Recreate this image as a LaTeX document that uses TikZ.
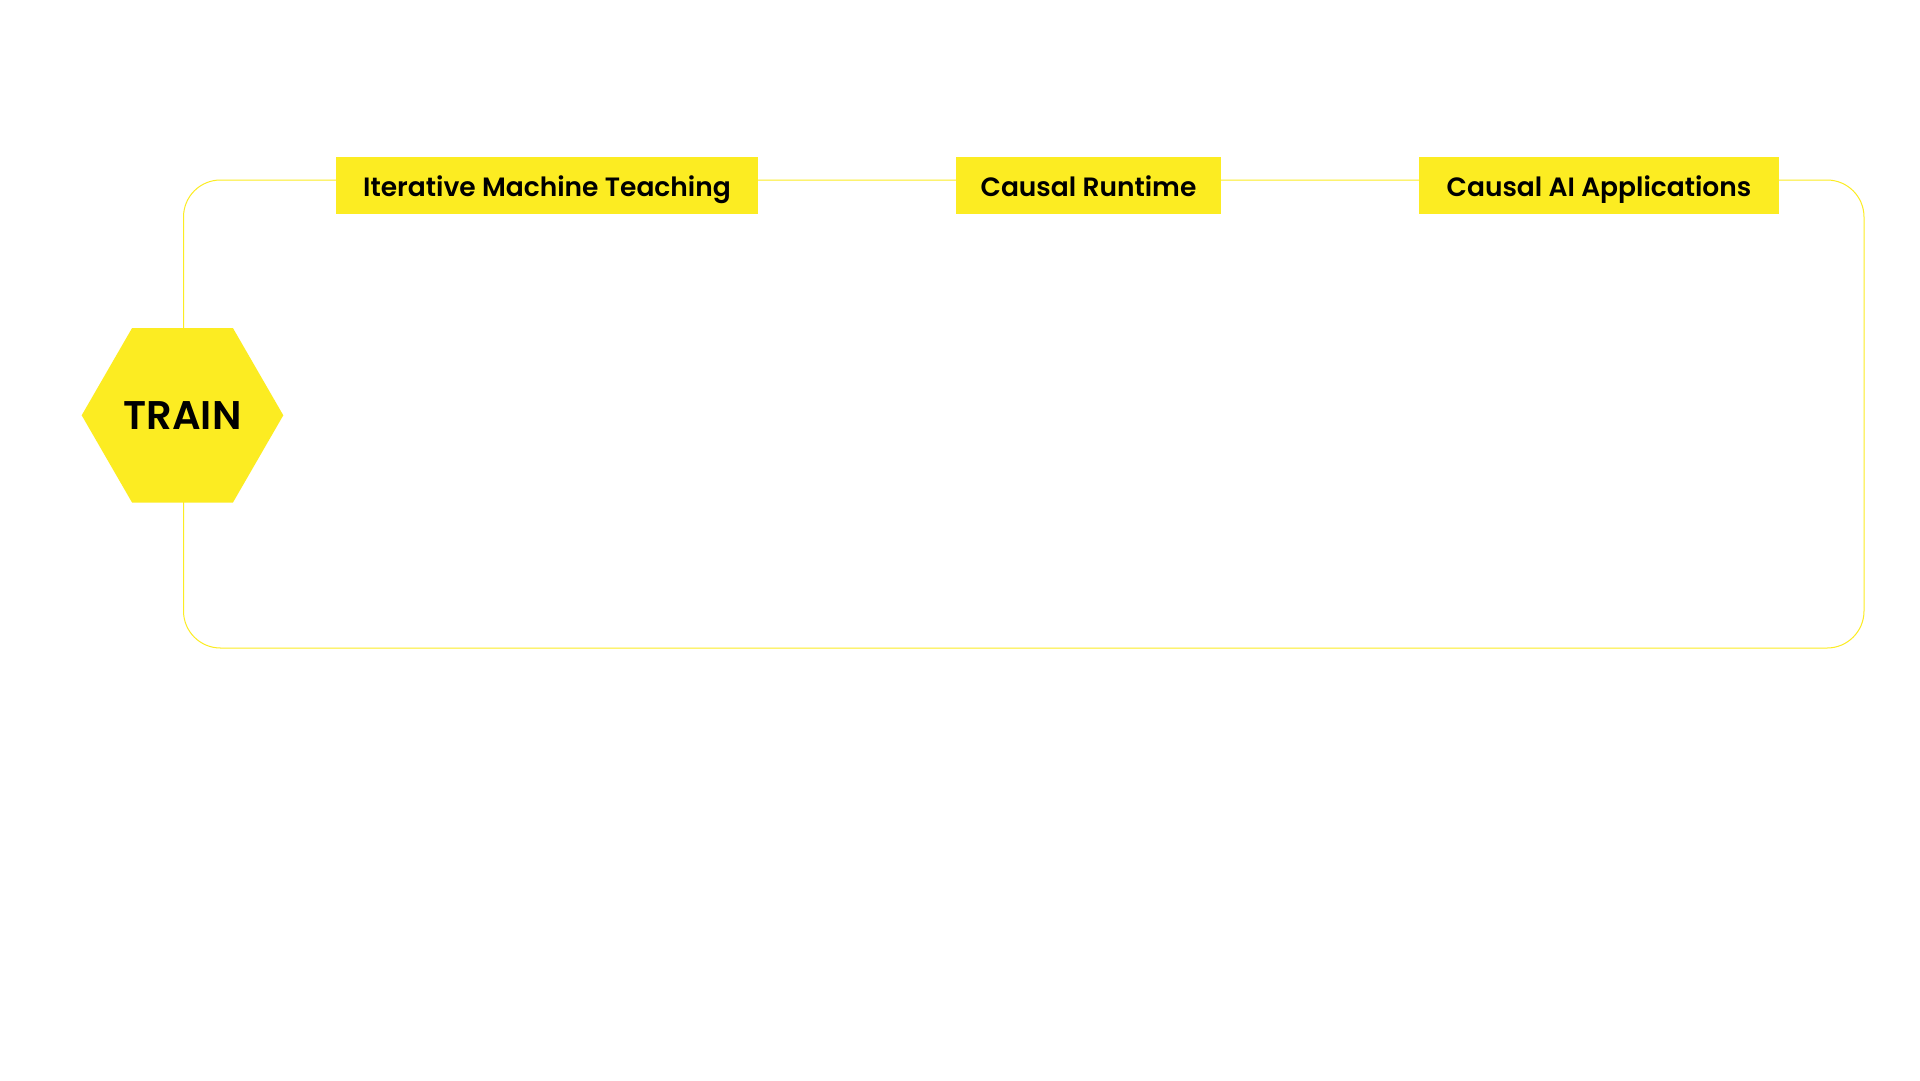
\documentclass[tikz,border=0pt]{standalone}
\usepackage{fontspec}
\setmainfont{Poppins}[BoldFont={Poppins SemiBold}]
\usetikzlibrary{shapes.geometric}
\definecolor{brandyellow}{HTML}{FCEC22}
\tikzset{
  frameline/.style={draw=brandyellow, line width=1pt},
  labelbox/.style={fill=brandyellow, inner sep=0pt, minimum height=57pt, text height=21pt, text depth=0pt, font=\fontsize{26.5}{30}\selectfont\bfseries, text=black},
  hexnode/.style={regular polygon, regular polygon sides=6, fill=brandyellow, inner sep=0pt, minimum size=201.6pt, font=\fontsize{40}{44}\selectfont\bfseries, text=black}
}
\begin{document}
\begin{tikzpicture}[x=1pt,y=-1pt]
\useasboundingbox[fill=white] (0,0) rectangle (1920,1080);
\draw[frameline, rounded corners=37pt] (183.5,180) rectangle (1864,648);
\node[hexnode] (train) at (182.5,415.3) {TRAIN};
\node[labelbox, minimum width=422pt] (imt) at (547,185.5) {Iterative Machine Teaching};
\node[labelbox, minimum width=265pt] (cr) at (1088.5,185.5) {Causal Runtime};
\node[labelbox, minimum width=360pt] (caa) at (1599,185.5) {Causal AI Applications};
\end{tikzpicture}
\end{document}
